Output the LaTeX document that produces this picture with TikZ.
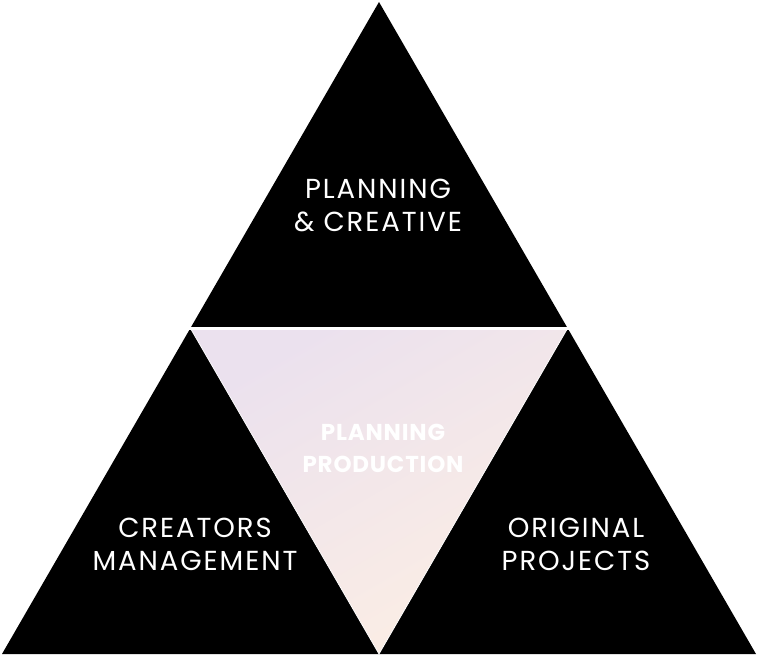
\documentclass[tikz,border=0pt]{standalone}
\usepackage{fontspec}
\setmainfont{Poppins}
\newfontfamily\lblfont[LetterSpace=7]{Poppins}
\newfontfamily\boldlblfont[LetterSpace=3.5]{Poppins}
\begin{document}
\begin{tikzpicture}[x=1pt,y=-1pt,
  blacktri/.style={fill=black},
  gaplines/.style={draw=white,line join=miter},
  label/.style={text=white,align=center,font=\lblfont\fontsize{27.5}{33}\selectfont,inner sep=0pt},
  boldlabel/.style={text=white,align=center,font=\boldlblfont\bfseries\fontsize{23}{32}\selectfont,inner sep=0pt}]
\definecolor{lav}{HTML}{EBE1EE}
\definecolor{peach}{HTML}{FCEEE4}
\useasboundingbox (0,0) rectangle (758,658);
\fill[white] (0,0) rectangle (758,658);
\coordinate (apex) at (379,2);
\coordinate (bl) at (2,654);
\coordinate (br) at (756,654);
\coordinate (ml) at (190.5,328.5);
\coordinate (mr) at (567.5,328.5);
\coordinate (mb) at (379,654);
\fill[blacktri] (apex) -- (bl) -- (br) -- cycle;
\shade[top color=lav,bottom color=peach,shading angle=30] (ml) -- (mr) -- (mb) -- cycle;
\draw[gaplines,line width=2.6pt] ([xshift=-4pt]ml) -- ([xshift=4pt]mr);
\draw[gaplines,line width=0.7pt] (ml) -- (mb) -- (mr);
\node[label] (top) at (378,205) {PLANNING\\\& CREATIVE};
\node[label] (left) at (195,544) {CREATORS\\MANAGEMENT};
\node[label] (right) at (576,544) {ORIGINAL\\PROJECTS};
\node[boldlabel] (mid) at (383,448) {PLANNING\\PRODUCTION};
\end{tikzpicture}
\end{document}
